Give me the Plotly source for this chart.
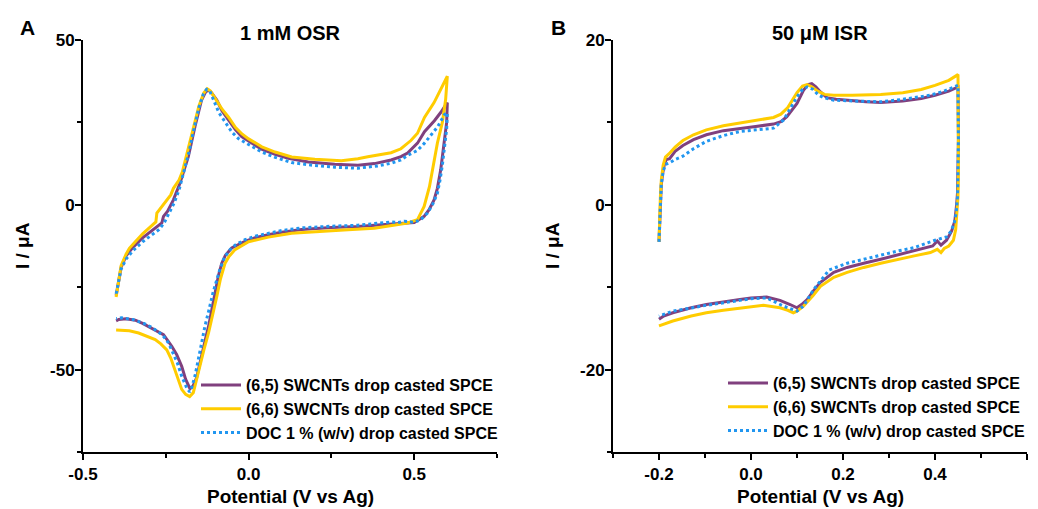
import plotly.graph_objects as go

# ---------------- Data ----------------
labels = ["(6,5) SWCNTs drop casted SPCE",
          "(6,6) SWCNTs drop casted SPCE",
          "DOC 1 % (w/v) drop casted SPCE"]
colors = ["#80407E", "#FFCC00", "#2196F0"]

# Panel A : 1 mM OSR
A_65_E = [-0.40, -0.393, -0.385, -0.37, -0.35, -0.32, -0.295, -0.272, -0.262, -0.257, -0.245, -0.227,
          -0.207, -0.195, -0.182, -0.162, -0.142, -0.13, -0.121, -0.112, -0.096, -0.08, -0.061, -0.04,
          -0.021, 0.0, 0.039, 0.08, 0.12, 0.18, 0.26, 0.33, 0.38, 0.43, 0.46, 0.48, 0.51, 0.531, 0.561,
          0.58, 0.60,
          0.598, 0.59, 0.58, 0.57, 0.56, 0.545, 0.53, 0.50, 0.47, 0.43, 0.38, 0.33, 0.25, 0.16, 0.10,
          0.059, 0.02, -0.011, -0.03, -0.051, -0.07, -0.081, -0.091, -0.101, -0.111, -0.121, -0.132,
          -0.142, -0.157, -0.168, -0.177, -0.19, -0.202, -0.217, -0.232, -0.257, -0.292, -0.32, -0.342,
          -0.37, -0.392, -0.40]
A_65_I = [-27.5, -24, -19, -15.5, -13, -10, -8, -6.2, -5.5, -3.5, -2, 1.5,
          6.6, 10.5, 14.6, 23.7, 31.8, 34.2, 34.8, 34, 31.8, 28.5, 25.8, 22.8,
          20.7, 19.3, 16.9, 15.3, 14.1, 13.0, 12.3, 12.0, 12.5, 13.6, 14.6, 15.7, 18.7, 22.2, 25.5,
          28, 31,
          25, 18.7, 10.6, 5, 1.5, -1.5, -3.5, -5.4, -5.6, -5.7, -6.2, -6.6, -6.9, -7.5, -8.3,
          -9.1, -10, -11.1, -12, -13.1, -15.3, -17.7, -21.5, -26.8, -32, -36.9, -41.5,
          -46, -52.5, -55, -55.8, -53, -49, -45.5, -42.9, -39.4, -37.4, -36, -35,
          -34.6, -34.8, -35.2]

A_66_E = [-0.40, -0.393, -0.385, -0.37, -0.36, -0.34, -0.32, -0.30, -0.28, -0.277, -0.265, -0.25,
          -0.235, -0.227, -0.21, -0.20, -0.19, -0.17, -0.15, -0.135, -0.125, -0.115, -0.10, -0.08,
          -0.06, -0.04, -0.02, 0.0, 0.04, 0.08, 0.13, 0.2, 0.28, 0.33, 0.36, 0.40, 0.43, 0.46, 0.49,
          0.51, 0.531, 0.56, 0.58, 0.60,
          0.595, 0.585, 0.57, 0.558, 0.546, 0.53, 0.51, 0.48, 0.46, 0.42, 0.38, 0.30, 0.2, 0.13, 0.06,
          0.0, -0.041, -0.06, -0.071, -0.085, -0.096, -0.11, -0.121, -0.135, -0.147, -0.158, -0.167,
          -0.178, -0.19, -0.202, -0.212, -0.222, -0.235, -0.247, -0.265, -0.282, -0.31, -0.332, -0.36,
          -0.392, -0.40]
A_66_I = [-28, -23.5, -18.5, -15, -13.2, -11, -8.8, -7, -5.2, -2.5, -1, 1,
          3, 5, 7.5, 10, 14, 22.5, 30, 34, 35.2, 34.5, 32, 29,
          26.5, 23.5, 21.5, 20, 17.6, 16, 14.5, 13.8, 13.4, 14.0, 14.6, 15.2, 15.8, 17.0, 19.5,
          21.7, 26.5, 31, 35, 39,
          32, 25, 18.7, 12, 5.5, -0.5, -4.5, -5.5, -5.8, -6.5, -7.1, -7.6, -8.1, -8.6, -9.8,
          -11.2, -13.6, -15.8, -17.7, -22.5, -27.8, -34, -38.9, -44, -49, -54, -57,
          -58.2, -57.5, -56, -53, -50, -46.5, -44, -42.2, -40.9, -39.8, -38.9, -38.2,
          -37.9, -38.0]

A_doc_E = [-0.40, -0.393, -0.385, -0.37, -0.35, -0.32, -0.29, -0.27, -0.255, -0.24, -0.225, -0.21,
           -0.195, -0.18, -0.165, -0.15, -0.137, -0.127, -0.117, -0.105, -0.09, -0.07, -0.05, -0.03,
           0.0, 0.04, 0.08, 0.13, 0.2, 0.26, 0.33, 0.39, 0.43, 0.46, 0.48, 0.51, 0.531, 0.55, 0.571,
           0.591, 0.60,
           0.598, 0.592, 0.585, 0.578, 0.57, 0.555, 0.54, 0.52, 0.50, 0.47, 0.45, 0.43, 0.38, 0.33,
           0.25, 0.16, 0.10, 0.06, 0.02, -0.011, -0.04, -0.06, -0.075, -0.088, -0.097, -0.107, -0.12,
           -0.132, -0.142, -0.152, -0.162, -0.172, -0.178, -0.187, -0.202, -0.215, -0.23, -0.242,
           -0.26, -0.292, -0.32, -0.35, -0.383, -0.40]
A_doc_I = [-27, -23, -19.5, -16.5, -14, -11.2, -9, -7.5, -5.5, -2.5, 0.5, 4.5,
           10, 16, 23, 29.5, 33.5, 35, 34.5, 31.5, 28, 25, 22, 20,
           18.2, 16, 14.4, 12.8, 11.9, 11.4, 11.1, 11.8, 12.6, 13.6, 15, 16.5, 18.7, 21, 23.7,
           27.3, 28,
           23, 17, 12, 7.5, 3.5, 0, -2.5, -4.5, -5.3, -5.0, -5.4, -5.2, -5.8, -6.2,
           -6.5, -7.0, -7.8, -8.6, -9.5, -10.6, -12.2, -14, -16.5, -20, -23, -26.5, -32,
           -36.9, -42, -47, -52, -55.5, -56.8, -55.5, -52, -48, -44.5, -41.9,
           -39.5, -37.2, -35.8, -34.8, -34.3, -34.5]

# Panel B : 50 uM ISR
B_65_E = [-0.2, -0.199, -0.197, -0.195, -0.192, -0.188, -0.184, -0.177, -0.165, -0.148, -0.125, -0.097,
          -0.06, -0.024, 0.01, 0.049, 0.065, 0.078, 0.09, 0.10, 0.114, 0.124, 0.132, 0.141, 0.151,
          0.165, 0.185, 0.22, 0.25, 0.282, 0.33, 0.37, 0.40, 0.43, 0.45,
          0.451, 0.45, 0.449, 0.447, 0.443, 0.436, 0.425, 0.413, 0.405, 0.395, 0.355, 0.32, 0.282,
          0.245, 0.209, 0.18, 0.151, 0.135, 0.122, 0.11, 0.10, 0.085, 0.063, 0.034, 0.0, -0.024,
          -0.06, -0.097, -0.13, -0.17, -0.19, -0.2]
B_65_I = [-4.5, -2.5, 0.6, 2.5, 3.8, 5.0, 5.5, 5.6, 6.5, 7.2, 7.9, 8.5,
          9.0, 9.3, 9.5, 9.8, 10.1, 10.7, 11.5, 12.3, 13.9, 14.6, 14.7, 14.3, 13.7,
          13.0, 12.8, 12.6, 12.5, 12.4, 12.6, 12.9, 13.3, 13.8, 14.3,
          8, 4.2, 1.5, 0, -2, -3.2, -4.3, -4.9, -4.4, -5.0, -5.6, -6.1, -6.6,
          -7.1, -7.6, -8.2, -9.4, -10.5, -11.5, -12.1, -12.5, -12.1, -11.6, -11.2, -11.3, -11.5,
          -11.8, -12.1, -12.5, -13.1, -13.5, -13.9]

B_66_E = [-0.2, -0.199, -0.197, -0.195, -0.191, -0.186, -0.178, -0.165, -0.148, -0.125, -0.097, -0.06,
          -0.024, 0.01, 0.049, 0.065, 0.08, 0.09, 0.10, 0.112, 0.122, 0.133, 0.145, 0.16, 0.18,
          0.22, 0.282, 0.33, 0.37, 0.40, 0.43, 0.45,
          0.451, 0.451, 0.45, 0.448, 0.445, 0.44, 0.43, 0.42, 0.413, 0.405, 0.39, 0.355, 0.32, 0.282,
          0.245, 0.209, 0.18, 0.151, 0.135, 0.114, 0.10, 0.092, 0.08, 0.063, 0.027, -0.024, -0.06,
          -0.097, -0.13, -0.17, -0.2]
B_66_I = [-4.5, -2, 1, 3, 4.8, 5.8, 6.2, 7.0, 7.8, 8.5, 9.1, 9.6,
          9.9, 10.2, 10.6, 11.0, 11.8, 12.7, 13.6, 14.4, 14.6, 14.3, 13.8, 13.4, 13.3,
          13.3, 13.4, 13.6, 14.0, 14.5, 15.1, 15.8,
          9, 4.2, 1, -1, -3, -4.3, -5.0, -5.3, -5.8, -5.4, -5.8, -6.2, -6.6, -7.1,
          -7.6, -8.2, -8.8, -9.9, -11.0, -12.3, -12.9, -13.1, -12.8, -12.5, -12.2, -12.5, -12.8,
          -13.1, -13.5, -14.1, -14.7]

B_doc_E = [-0.2, -0.199, -0.197, -0.195, -0.191, -0.186, -0.177, -0.165, -0.148, -0.125, -0.097, -0.06,
           -0.024, 0.01, 0.049, 0.071, 0.085, 0.10, 0.112, 0.122, 0.135, 0.147, 0.158, 0.18, 0.22,
           0.282, 0.33, 0.39, 0.42, 0.45,
           0.451, 0.45, 0.449, 0.446, 0.442, 0.435, 0.425, 0.40, 0.355, 0.32, 0.282, 0.245, 0.209,
           0.17, 0.136, 0.114, 0.10, 0.085, 0.071, 0.034, 0.0, -0.024, -0.097, -0.17, -0.2]
B_doc_I = [-4.5, -2.5, 0.5, 2.5, 4.0, 4.9, 5.1, 5.5, 5.9, 6.8, 7.7, 8.4,
           8.9, 9.1, 9.3, 10.3, 11.6, 13.1, 14.0, 14.3, 14.0, 13.3, 13.0, 12.7, 12.6,
           12.5, 12.8, 13.3, 13.8, 14.5,
           8, 4, 1, -1, -2.2, -3.2, -3.9, -4.3, -5.2, -5.6, -6.1, -6.6, -7.1,
           -7.9, -10.3, -12.3, -12.9, -12.6, -12.3, -11.3, -11.4, -11.6, -12.2, -12.9, -13.5]

A_title, B_title = "1 mM OSR", "50 \u03bcM ISR"
y_title = "I / \u03bcA"
x_title = "Potential (V vs Ag)"
A_xticks, A_xtext = [-0.5, 0.0, 0.5], ["-0.5", "0.0", "0.5"]
A_yticks, A_ytext = [-50, 0, 50], ["-50", "0", "50"]
B_xticks, B_xtext = [-0.2, 0.0, 0.2, 0.4, 0.6], ["-0.2", "0.0", "0.2", "0.4", "0.6"]
B_yticks, B_ytext = [-20, 0, 20], ["-20", "0", "20"]

# ---------------- Figure ----------------
OFF = 8                      # page body margin of the html page
W, H = 1038 - OFF, 509 - OFF
FONT = "Liberation Sans, Arial, sans-serif"

def px(x):
    return (x - OFF) / W

def py(y):
    return 1 - (y - OFF) / H

fig = go.Figure()

def add_set(E_list, I_list, xa, ya, leg):
    for k, (E, I) in enumerate(zip(E_list, I_list)):
        fig.add_trace(go.Scatter(
            x=E, y=I, mode="lines", name=labels[k],
            line=dict(color=colors[k], width=3, dash="dot" if k == 2 else "solid"),
            xaxis=xa, yaxis=ya, legend=leg, showlegend=True))

add_set([A_65_E, A_66_E, A_doc_E], [A_65_I, A_66_I, A_doc_I], "x", "y", "legend")
add_set([B_65_E, B_66_E, B_doc_E], [B_65_I, B_66_I, B_doc_I], "x2", "y2", "legend2")

tickfont = dict(family=FONT, size=17, color="black", weight="bold")
axis_common = dict(showline=True, linewidth=2, linecolor="black", ticks="outside",
                   ticklen=6, tickwidth=2, tickcolor="black", showgrid=False, zeroline=False,
                   tickfont=tickfont, automargin=False)

fig.update_layout(
    width=W, height=H, margin=dict(l=0, r=0, t=0, b=0),
    paper_bgcolor="white", plot_bgcolor="white",
    xaxis=dict(domain=[px(83), px(497)], range=[-0.5, 0.75], anchor="y",
               tickvals=A_xticks, ticktext=A_xtext,
               minor=dict(tickvals=[-0.25, 0.25, 0.75], ticks="outside", ticklen=4, tickwidth=2,
                          tickcolor="black"), **axis_common),
    yaxis=dict(domain=[py(452), py(40)], range=[-75, 50], anchor="x",
               tickvals=A_yticks, ticktext=A_ytext, ticklabelstandoff=-3,
               minor=dict(tickvals=[-75, -25, 25], ticks="outside", ticklen=4, tickwidth=2,
                          tickcolor="black"), **axis_common),
    xaxis2=dict(domain=[px(613), px(1027)], range=[-0.3, 0.6], anchor="y2",
                tickvals=B_xticks, ticktext=B_xtext,
                minor=dict(tickvals=[-0.3, -0.1, 0.1, 0.3, 0.5], ticks="outside", ticklen=4,
                           tickwidth=2, tickcolor="black"), **axis_common),
    yaxis2=dict(domain=[py(452), py(40)], range=[-30, 20], anchor="x2",
                tickvals=B_yticks, ticktext=B_ytext, ticklabelstandoff=-3,
                minor=dict(tickvals=[-30, -10, 10], ticks="outside", ticklen=4, tickwidth=2,
                           tickcolor="black"), **axis_common),
    legend=dict(x=px(196), y=py(368), xanchor="left", yanchor="top", bgcolor="rgba(0,0,0,0)",
                font=dict(family=FONT, size=16, color="black", weight="bold"), itemwidth=40,
                tracegroupgap=0),
    legend2=dict(x=px(723), y=py(366), xanchor="left", yanchor="top", bgcolor="rgba(0,0,0,0)",
                 font=dict(family=FONT, size=16, color="black", weight="bold"), itemwidth=40,
                 tracegroupgap=0),
    showlegend=True,
)

def ann(text, x, y, size, angle=0):
    fig.add_annotation(text=text, x=px(x), y=py(y), xref="paper", yref="paper",
                       showarrow=False, xanchor="center", yanchor="middle", textangle=angle,
                       font=dict(family=FONT, size=size, color="black", weight="bold"))

ann(A_title, 290, 33, 20)
ann(B_title, 820, 33, 20)
ann("A", 27, 27, 21)
ann("B", 558, 27, 21)
ann(y_title, 22, 246, 19, -90)
ann(y_title, 552, 246, 19, -90)
ann(x_title, 290, 496, 19)
ann(x_title, 820, 496, 19)

fig.write_html("out.html")
